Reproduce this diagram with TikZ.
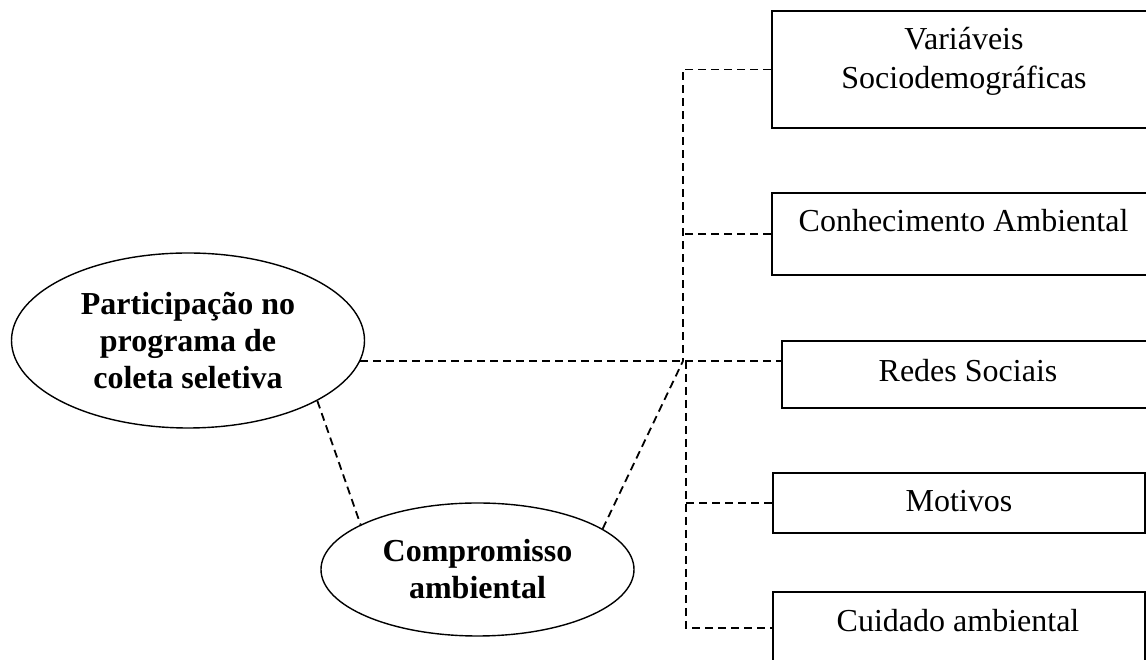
\documentclass[tikz,border=0pt]{standalone}
\usepackage{fontspec}
\setmainfont{Liberation Serif}
\usetikzlibrary{shapes.geometric,calc}
\begin{document}
\begin{tikzpicture}[x=1pt,y=1pt,
  box/.style={draw=black,line width=1.8pt,rectangle,inner sep=0pt},
  oval/.style={draw=black,line width=1.4pt,ellipse,inner sep=0pt,align=center,
    font=\fontsize{32}{37}\selectfont\bfseries},
  label/.style={anchor=base,inner sep=0pt,font=\fontsize{32}{38}\selectfont},
  link/.style={draw=black,line width=1.8pt,dash pattern=on 8pt off 5pt}]
\useasboundingbox (0,0) rectangle (1146,660);

% outcome and mediator
\node[oval,minimum width=353,minimum height=175] (e1) at (188,319.5)
  {Participação no\\programa de\\coleta seletiva};
\node[oval,minimum width=313,minimum height=133] (e2) at (477.5,90.5)
  {Compromisso\\ambiental};

% predictor boxes
\node[box,minimum width=384,minimum height=117] (b1) at (964,590.5) {};
\node[box,minimum width=384,minimum height=82] (b2) at (964,426) {};
\node[box,minimum width=372,minimum height=67] (b3) at (968,285.5) {};
\node[box,minimum width=372,minimum height=60] (b4) at (959,157) {};
\node[box,minimum width=372,minimum height=72] (b5) at (959,32) {};

\node[label] (t1a) at (964,610) {Variáveis};
\node[label] (t1b) at (964,571) {Sociodemográficas};
\node[label] (t2) at (963.5,428) {Conhecimento Ambiental};
\node[label] (t3) at (968,278) {Redes Sociais};
\node[label] (t4) at (959,148) {Motivos};
\node[label] (t5) at (958,28) {Cuidado ambiental};

% junctions of the dashed connectors
\coordinate (jt) at (683,299);
\coordinate (jl) at (686,299);
\coordinate (e1r) at ($(e1.center)+(172,-20.5)$);

% connectors
\draw[link] (b1.west) -- (b1.west -| jt) -- (jt);
\draw[link] (b2.west) -- (b2.west -| jt);
\draw[link] (e1r) -- (jt) -- (jt -| b3.west);
\draw[link] (jl) -- (jl |- b5.west) -- (b5.west);
\draw[link] (b4.west -| jl) -- (b4.west);
\draw[link] (e2.18) -- (jt);
\draw[link] (e1.-25.8) -- (e2.159.3);
\end{tikzpicture}
\end{document}
